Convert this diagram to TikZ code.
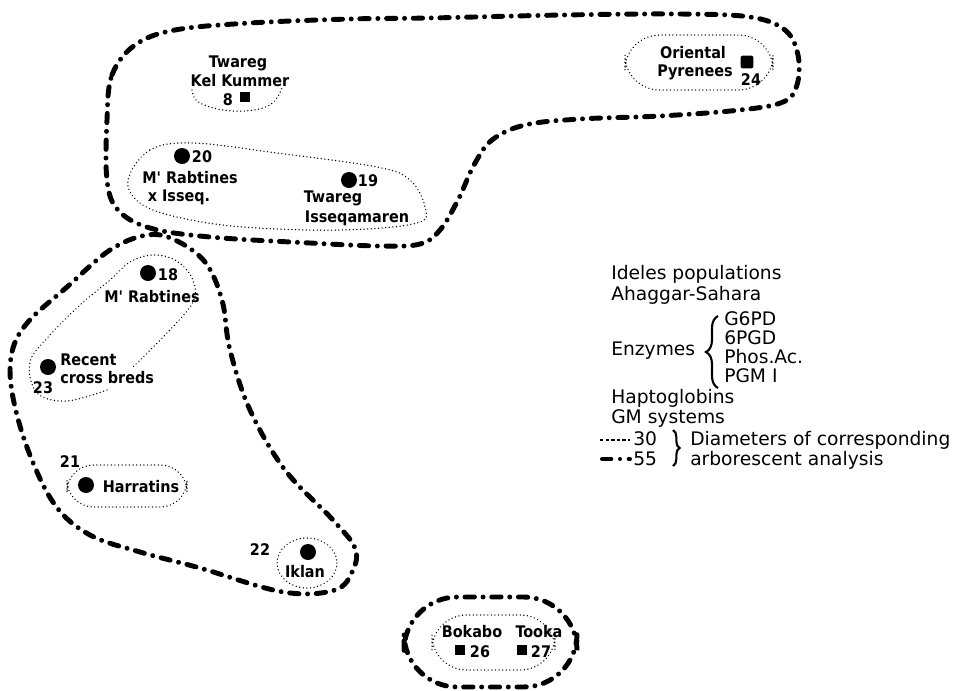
\documentclass[tikz,border=0pt]{standalone}
\usepackage{fontspec}
\setmainfont{DejaVu Sans}
\newfontfamily\popfont{DejaVu Sans Condensed}
\usetikzlibrary{decorations.pathreplacing}
\begin{document}
\begin{tikzpicture}[x=0.75pt,y=-0.75pt,
  bigline/.style={line width=3.7pt, line cap=round, dash pattern=on 7pt off 6.5pt on 0.01pt off 6.5pt},
  smallline/.style={line width=1.1pt, line cap=round, dash pattern=on 0.01pt off 2.7pt},
  lab/.style={font=\popfont\bfseries\fontsize{12}{14}\selectfont, inner sep=0pt},
  leg/.style={font=\fontsize{14}{16}\selectfont, inner sep=0pt, anchor=base west},
  disc/.style={circle, fill, inner sep=0pt, minimum size=12pt},
  sq/.style={rectangle, fill, inner sep=0pt, minimum size=8pt},
  bracestyle/.style={line width=1.6pt, decorate},
]
\path[use as bounding box] (0,0) rectangle (968,690);

% ---------- 55-diameter groupings (thick dash-dot) ----------
\draw[bigline] plot[smooth cycle, tension=0.6] coordinates {
  (107,120) (112,75) (135,45) (175,30) (250,23) (350,19) (430,18) (563,15)
  (680,14) (750,17) (785,30) (798,55) (797,85) (783,102) (740,110) (660,116)
  (580,119) (525,125) (492,140) (474,165) (458,200) (440,230) (420,244)
  (380,246) (310,243) (210,237) (150,228) (118,210) (107,180)};

\draw[bigline] plot[smooth cycle, tension=0.6] coordinates {
  (147,235) (110,250) (67,287) (28,322) (12,352) (12,392) (28,450) (55,505)
  (90,535) (140,552) (200,568) (283,592) (335,590) (353,570) (355,548)
  (333,520) (285,470) (250,410) (230,350) (222,300) (205,262) (175,240)};

\draw[bigline, rounded corners=40] (404,597) rectangle (577,687);

% ---------- 30-diameter groupings (fine dotted) ----------
\draw[smallline] plot[smooth, tension=0.7] coordinates {
  (192,90) (200,103) (233,111) (268,106) (282,88)};
\draw[smallline, rounded corners=26] (625,35) rectangle (773,90);
\draw[smallline] plot[smooth cycle, tension=0.6] coordinates {
  (128,180) (150,150) (193,143) (277,153) (377,167) (410,180) (425,207)
  (417,223) (343,230) (243,227) (177,217) (140,203)};
\draw[smallline] plot[smooth, tension=0.6] coordinates {
  (107,390) (67,401) (37,393) (30,362) (50,335) (80,305) (110,280) (130,262)
  (152,255) (175,260) (192,278) (193,302) (165,335) (133,367)};
\draw[smallline, rounded corners=20] (67,465) rectangle (187,507);
\draw[smallline] (307,563) ellipse [x radius=30, y radius=25];
\draw[smallline, rounded corners=26] (432,615) rectangle (555,670);

% ---------- populations ----------
\node[lab] (tkk1) at (238,63) {Twareg};
\node[lab] (tkk2) at (240,81) {Kel Kummer};
\node[lab] (n8) at (228,100) {8};
\node[sq] (p8) at (245,97) {};

\node[lab] (op1) at (693,53) {Oriental};
\node[lab] (op2) at (695,72) {Pyrenees};
\node[sq, minimum size=9.5pt, rounded corners=1.5pt] (p24) at (747,62) {};
\node[lab] (n24) at (751,80) {24};

\node[disc] (p20) at (182,156) {};
\node[lab] (n20) at (202,157) {20};
\node[lab] (mr1) at (190,178) {M' Rabtines};
\node[lab] (mr2) at (179,197) {x Isseq.};

\node[disc] (p19) at (349,180) {};
\node[lab] (n19) at (368,181) {19};
\node[lab] (ti1) at (333,198) {Twareg};
\node[lab] (ti2) at (357,218) {Isseqamaren};

\node[disc] (p18) at (148,273) {};
\node[lab] (n18) at (168,275) {18};
\node[lab] (mr3) at (152,297) {M' Rabtines};

\node[disc] (p23) at (48,367) {};
\node[lab] (n23) at (43,388) {23};
\node[lab, anchor=west] (rc1) at (60,360) {Recent};
\node[lab, anchor=west] (rc2) at (60,378) {cross breds};

\node[disc] (p21) at (86,485) {};
\node[lab] (n21) at (70,462) {21};
\node[lab] (hr) at (141,487) {Harratins};

\node[disc] (p22) at (308,552) {};
\node[lab] (n22) at (260,550) {22};
\node[lab] (ik) at (305,572) {Iklan};

\node[lab] (bk) at (472,632) {Bokabo};
\node[lab] (tk) at (539,632) {Tooka};
\node[sq] (p26) at (460,650) {};
\node[lab] (n26) at (480,652) {26};
\node[sq] (p27) at (522,650) {};
\node[lab] (n27) at (541,652) {27};

% ---------- legend ----------
\node[leg] (lg1) at (611,279) {Ideles populations};
\node[leg] (lg2) at (611,300) {Ahaggar-Sahara};
\node[leg] (lg3) at (611,355) {Enzymes};
\node[leg] (lg4) at (724,325) {G6PD};
\node[leg] (lg5) at (724,344) {6PGD};
\node[leg] (lg6) at (724,363) {Phos.Ac.};
\node[leg] (lg7) at (724,382) {PGM I};
\node[leg] (lg8) at (611,403) {Haptoglobins};
\node[leg] (lg9) at (611,423) {GM systems};
\node[leg] (lg30) at (633,445) {30};
\node[leg] (lg55) at (633,465) {55};
\node[leg] (lgd1) at (690,445) {Diameters of corresponding};
\node[leg] (lgd2) at (690,465) {arborescent analysis};

\coordinate (enzA) at (718,388);
\coordinate (enzB) at (718,316);
\draw[bracestyle, decoration={brace, amplitude=9pt}] (enzA) -- (enzB);

\coordinate (dmA) at (673,430);
\coordinate (dmB) at (673,466);
\draw[bracestyle, decoration={brace, amplitude=5pt}] (dmA) -- (dmB);

\coordinate (s30a) at (600,440);
\coordinate (s30b) at (630,440);
\draw[line width=1pt, dash pattern=on 2.6pt off 1.6pt] (s30a) -- (s30b);
\coordinate (s55a) at (602,459);
\coordinate (s55b) at (630,459);
\draw[bigline, line width=3pt] (s55a) -- (s55b);
\end{tikzpicture}
\end{document}
